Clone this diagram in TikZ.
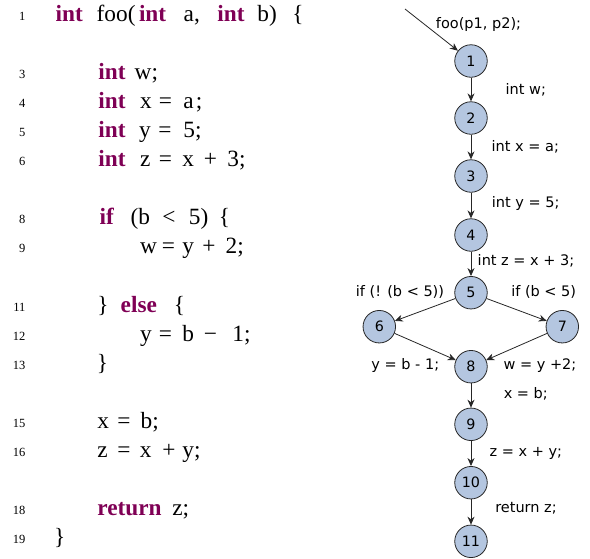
\documentclass[tikz,border=0pt]{standalone}
\usepackage{fontspec}
\setmainfont{Liberation Serif}
\newfontfamily\labfont{DejaVu Sans}
\usetikzlibrary{arrows.meta}
\definecolor{kwc}{RGB}{127,0,85}
\definecolor{nodefill}{RGB}{180,198,224}
\newcommand\kw[1]{\textbf{\color{kwc}#1}}
\newcommand\tk[2]{\makebox[0pt][l]{\hspace{#1pt}#2}}
\tikzset{
  codeline/.style={anchor=base west, inner sep=0pt, font=\fontsize{23.3}{23.3}\selectfont},
  lineno/.style={anchor=base east, inner sep=0pt, font=\fontsize{12.5}{12.5}\selectfont},
  cfgnode/.style={circle, draw=black!85, fill=nodefill, minimum size=32.5pt, inner sep=0pt, line width=0.8pt, font=\labfont\fontsize{14.3}{14.3}\selectfont},
  lbl/.style={anchor=base, inner sep=0pt, font=\labfont\fontsize{14.5}{14.5}\selectfont},
  edge/.style={-{Stealth[length=8pt,width=7pt]}, line width=0.8pt, black!85}
}
\begin{document}
\begin{tikzpicture}[x=1pt,y=-1pt]
\useasboundingbox (0,0) rectangle (590,558);
% line numbers
\node[lineno] (l1)  at (25.5,20)    {1};
\node[lineno] (l3)  at (25.5,78.2)  {3};
\node[lineno] (l4)  at (25.5,107.3) {4};
\node[lineno] (l5)  at (25.5,136.4) {5};
\node[lineno] (l6)  at (25.5,165.5) {6};
\node[lineno] (l8)  at (25.5,223.7) {8};
\node[lineno] (l9)  at (25.5,252.8) {9};
\node[lineno] (l11) at (25.5,311)   {11};
\node[lineno] (l12) at (25.5,340.1) {12};
\node[lineno] (l13) at (25.5,369.2) {13};
\node[lineno] (l15) at (25.5,427.4) {15};
\node[lineno] (l16) at (25.5,456.5) {16};
\node[lineno] (l18) at (25.5,514.7) {18};
\node[lineno] (l19) at (25.5,543.8) {19};
% code lines
\node[codeline] (c1) at (55,21) {\tk{0}{\kw{int}}\tk{41}{foo(}\tk{83.3}{\kw{int}}\tk{128}{a,}\tk{161.7}{\kw{int}}\tk{201.7}{b)}\tk{236.7}{\{}};
\node[codeline] (c3) at (97.7,79.2) {\tk{0}{\kw{int}}\tk{36.3}{w;}};
\node[codeline] (c4) at (97.7,108.3) {\tk{0}{\kw{int}}\tk{41.6}{x}\tk{60.6}{=}\tk{85}{a}\tk{97.5}{;}};
\node[codeline] (c5) at (97.7,137.4) {\tk{0}{\kw{int}}\tk{40.6}{y}\tk{60}{=}\tk{85}{5;}};
\node[codeline] (c6) at (97.7,166.5) {\tk{0}{\kw{int}}\tk{41.6}{z}\tk{60.6}{=}\tk{84}{x}\tk{105.6}{+}\tk{129}{3;}};
\node[codeline] (c8) at (99,224.7) {\tk{0}{\kw{if}}\tk{31}{(b}\tk{62.7}{<}\tk{89.3}{5)}\tk{119.3}{\{}};
\node[codeline] (c9) at (139.3,253.8) {\tk{0}{w}\tk{22}{=}\tk{42.4}{y}\tk{62.4}{+}\tk{85.7}{2;}};
\node[codeline] (c11) at (96.7,312) {\tk{0}{\}}\tk{23.3}{\kw{else}}\tk{76.6}{\{}};
\node[codeline] (c12) at (139.3,341.1) {\tk{0}{y}\tk{19}{=}\tk{42.4}{b}\tk{64}{−}\tk{92.4}{1;}};
\node[codeline] (c13) at (96.7,370.2) {\}};
\node[codeline] (c15) at (96.7,428.4) {\tk{0}{x}\tk{20}{=}\tk{43.3}{b;}};
\node[codeline] (c16) at (96.7,457.5) {\tk{0}{z}\tk{20}{=}\tk{42.6}{x}\tk{65}{+}\tk{85}{y;}};
\node[codeline] (c18) at (96.7,515.7) {\tk{0}{\kw{return}}\tk{75}{z;}};
\node[codeline] (c19) at (54,544.8) {\}};
% CFG nodes
\node[cfgnode] (n1)  at (471,61)    {1};
\node[cfgnode] (n2)  at (471,118)   {2};
\node[cfgnode] (n3)  at (471,176)   {3};
\node[cfgnode] (n4)  at (471,235)   {4};
\node[cfgnode] (n5)  at (471,292.7) {5};
\node[cfgnode] (n6)  at (379.3,326.7) {6};
\node[cfgnode] (n7)  at (562.3,326.7) {7};
\node[cfgnode] (n8)  at (471,366.7) {8};
\node[cfgnode] (n9)  at (471,424.3) {9};
\node[cfgnode] (n10) at (471,482.7) {10};
\node[cfgnode] (n11) at (471,541.3) {11};
\coordinate (entry) at (405,9);
% edges
\draw[edge] (entry) -- (n1);
\draw[edge] (n1) -- (n2);
\draw[edge] (n2) -- (n3);
\draw[edge] (n3) -- (n4);
\draw[edge] (n4) -- (n5);
\draw[edge] (n5) -- (n6);
\draw[edge] (n5) -- (n7);
\draw[edge] (n6) -- (n8);
\draw[edge] (n7) -- (n8);
\draw[edge] (n8) -- (n9);
\draw[edge] (n9) -- (n10);
\draw[edge] (n10) -- (n11);
% edge labels
\node[lbl] (t0) at (478.5,28.5) {foo(p1, p2);};
\node[lbl] (t1) at (525.8,94.3) {int w;};
\node[lbl] (t2) at (525.3,151.7) {int x = a;};
\node[lbl] (t3) at (525.7,207.3) {int y = 5;};
\node[lbl] (t4) at (526,265.7) {int z = x + 3;};
\node[lbl] (t5) at (400,296) {if (! (b < 5))};
\node[lbl] (t6) at (543.7,296) {if (b < 5)};
\node[lbl] (t7) at (405.3,369) {y = b - 1;};
\node[lbl] (t8) at (540,369) {w = y +2;};
\node[lbl] (t9) at (525.8,398.3) {x = b;};
\node[lbl] (t10) at (525.8,456) {z = x + y;};
\node[lbl] (t11) at (526,512.7) {return z;};
\end{tikzpicture}
\end{document}
